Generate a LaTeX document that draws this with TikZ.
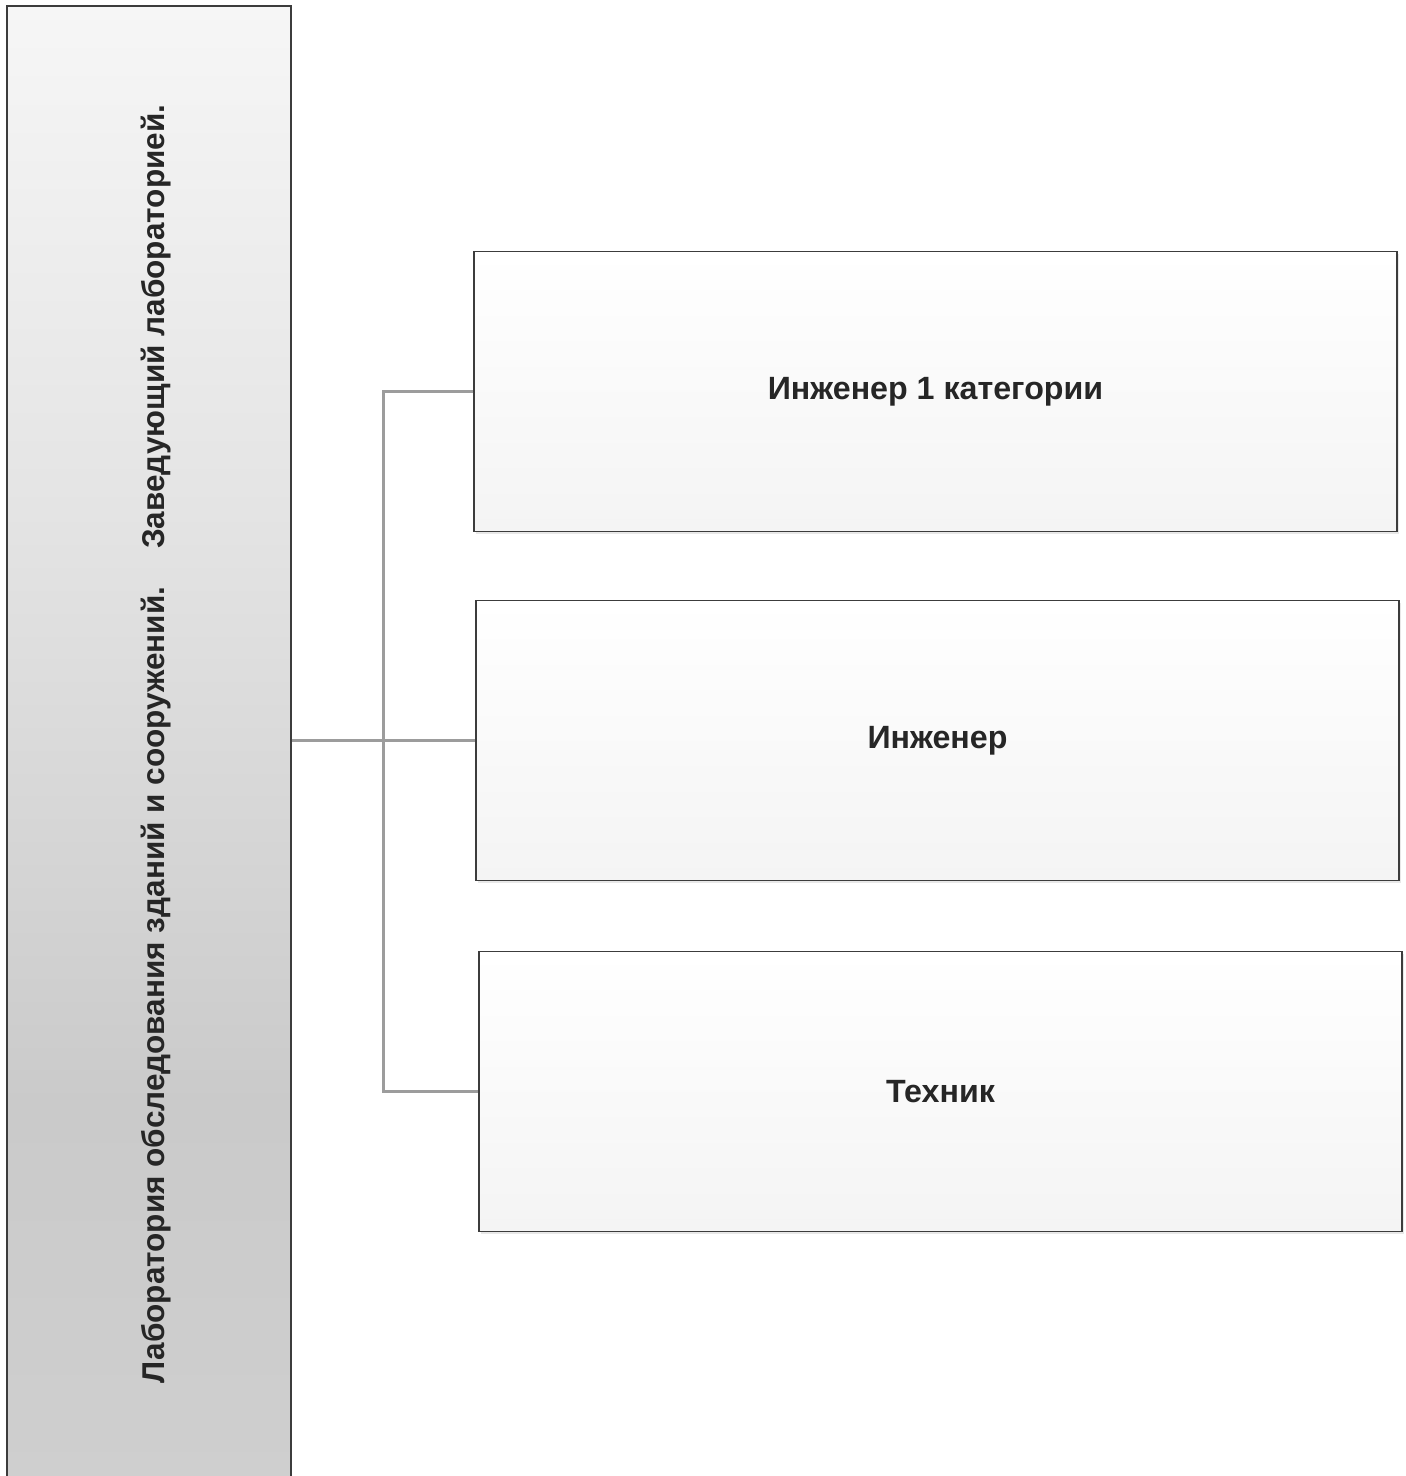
\documentclass[tikz,border=0pt]{standalone}
\usepackage{fontspec}
\setmainfont{Liberation Sans}
\usetikzlibrary{shadows}
\definecolor{shA}{HTML}{F6F6F6}
\definecolor{shB}{HTML}{E4E4E4}
\definecolor{shC}{HTML}{CACACA}
\definecolor{shD}{HTML}{CFCFCF}
\definecolor{boxline}{HTML}{3C3C3C}
\definecolor{connc}{HTML}{9C9C9C}
\definecolor{txtc}{HTML}{262626}
\definecolor{boxbot}{HTML}{F4F4F4}
\pgfdeclareverticalshading{labshade}{100bp}{color(0bp)=(shD); color(25bp)=(shD); color(38bp)=(shC); color(58bp)=(shB); color(75bp)=(shA); color(100bp)=(shA)}
\tikzset{
  labbox/.style={draw=boxline, line width=0.7pt, shading=labshade, minimum width=142pt, minimum height=742pt, inner sep=0pt},
  labtext/.style={rotate=90, text=txtc, font=\fontsize{15.75pt}{18pt}\selectfont\bfseries, inner sep=0pt},
  rolebox/.style={draw=boxline, line width=0.7pt, top color=white, bottom color=boxbot, minimum width=461.5pt, minimum height=140pt, inner sep=0pt, text=txtc, font=\fontsize{16.1pt}{18pt}\selectfont\bfseries, drop shadow={opacity=0.18, shadow xshift=1pt, shadow yshift=-1.2pt}},
  conn/.style={draw=connc, line width=1.5pt}
}
\begin{document}
\begin{tikzpicture}[x=0.5pt, y=-0.5pt]
\useasboundingbox (0,0) rectangle (1405,1476);
\clip (0,0) rectangle (1405,1476);
\fill[white] (0,0) rectangle (1405,1476);
\node[labbox] (lab) at (149,748) {};
\node[labtext, anchor=base] (labt) at (164,744) {Лаборатория обследования зданий и сооружений.\hspace{1.2em}Заведующий лабораторией.};
\node[rolebox] (b1) at (935.5,391.5) {Инженер 1 категории};
\node[rolebox] (b2) at (937.5,740.5) {Инженер};
\node[rolebox] (b3) at (940.5,1091.5) {Техник};
\coordinate (trunk) at (383,742);
\draw[conn] (lab.east |- b2.west) -- (b2.west);
\draw[conn] (b1.west) -- (b1.west -| trunk) -- (b3.west -| trunk) -- (b3.west);
\end{tikzpicture}
\end{document}
